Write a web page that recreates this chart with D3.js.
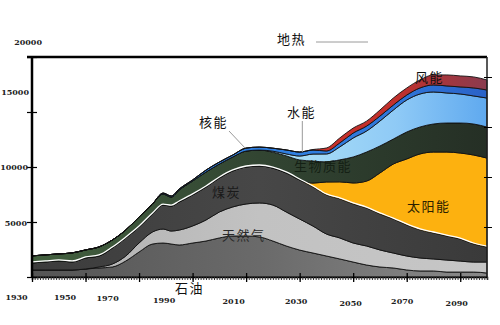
<!DOCTYPE html>
<html>
<head>
<meta charset="utf-8">
<script src="https://cdn.jsdelivr.net/npm/d3@7"></script>
<style>
  body { margin: 0; background: #fff; }
  svg { display: block; }
  .num { font-family: "DejaVu Serif", serif; font-weight: bold; font-size: 8px; fill: #222; }
  .cjk { font-family: "Noto Sans CJK SC", sans-serif; font-size: 13px; letter-spacing: 1.5px; }
</style>
</head>
<body>
<svg id="chart"></svg>
<script>
/* global d3 */

// years
const years = [1930, 1935, 1940, 1945, 1950, 1955, 1960, 1965, 1970, 1975, 1979, 1982, 1985,
  1990, 1995, 2000, 2005, 2010, 2015, 2020, 2025, 2030, 2035, 2040, 2045, 2050, 2055,
  2060, 2065, 2070, 2075, 2080, 2085, 2090, 2095, 2100]

// layer thickness per year (bottom to top)
const oil = [640, 640, 640, 640, 730, 820, 910, 1450, 2270, 3000, 3090, 3000, 2910,
  3090, 3270, 3550, 3730, 3730, 3640, 3270, 2820, 2450, 2180, 1910, 1640, 1360, 1090,
  910, 820, 640, 550, 550, 450, 450, 450, 360]
const gas = [0, 0, 0, 0, 0, 90, 270, 450, 820, 1090, 1270, 1180, 1360,
  1550, 1910, 2360, 2640, 2910, 3090, 3270, 3090, 2820, 2450, 2000, 1910, 1730, 1730,
  1550, 1360, 1270, 1180, 1090, 1090, 1000, 910, 1000]
const coal = [640, 730, 820, 730, 1000, 1000, 1450, 1640, 1450, 1640, 2180, 2270, 2550,
  2820, 3000, 3090, 3270, 3360, 3360, 3360, 3550, 3550, 3550, 3550, 3550, 3550, 3450,
  3270, 3090, 2820, 2550, 2360, 2180, 2000, 1640, 1360]
const solar = [0, 0, 0, 0, 0, 0, 0, 0, 0, 0, 0, 0, 0,
  0, 0, 0, 0, 0, 0, 0, 0, 0, 360, 1180, 1550, 1910, 2450,
  3730, 5000, 6000, 6910, 7360, 7640, 7820, 8090, 8090]
const biomass = [640, 640, 640, 820, 730, 820, 730, 730, 910, 910, 1000, 820, 1090,
  1270, 1360, 1270, 1270, 1450, 1450, 1450, 1550, 1820, 2000, 1820, 2000, 2360, 2640,
  2450, 2270, 2450, 2450, 2550, 2640, 2730, 2820, 2820]
const hydro = [0, 0, 0, 0, 0, 0, 0, 0, 0, 0, 0, 0, 0,
  0, 0, 0, 0, 0, 0, 90, 180, 360, 640, 730, 1180, 1730, 1910,
  2270, 2640, 2910, 3000, 2910, 2730, 2640, 2550, 2640]
const nuclear = [0, 0, 0, 0, 0, 0, 0, 0, 0, 0, 90, 90, 90,
  90, 180, 180, 180, 270, 270, 270, 360, 360, 360, 270, 360, 450, 450,
  450, 450, 450, 550, 640, 640, 640, 730, 730]
const wind = [0, 0, 0, 0, 0, 0, 0, 0, 0, 0, 0, 0, 0,
  0, 0, 0, 0, 0, 0, 0, 0, 0, 50, 270, 450, 450, 450,
  550, 640, 640, 730, 910, 1000, 1000, 1000, 910]

const keys = ['石油', '天然气', '煤炭', '太阳能', '生物质能', '水能', '核能', '风能']
const yTickValues = [0, 5000, 10000, 15000, 20000]
const yearLabels = [1930, 1950, 1970, 1990, 2010, 2030, 2050, 2070, 2090]

document.addEventListener('DOMContentLoaded', function () {
  const width = 500
  const height = 325

  const svg = d3.select('#chart')
    .attr('width', width)
    .attr('height', height)

  const x = d3.scaleLinear().domain([1930, 2100]).range([32, 487])
  const y = d3.scaleLinear().domain([0, 20000]).range([277, 57])
  const yRight = d3.scaleLinear().domain([0, 20000]).range([277, 77])

  const columns = [oil, gas, coal, solar, biomass, hydro, nuclear, wind]
  const rows = years.map((yr, i) => {
    const r = { year: yr }
    keys.forEach((k, j) => { r[k] = columns[j][i] })
    return r
  })
  const stacked = d3.stack().keys(keys)(rows)

  // gradients, roughly the shading of the scan
  const fills = {
    石油: ['#555555', '#6a6a6a', '#8a8a8a'],
    天然气: ['#b0b0b0', '#c2c2c2', '#c6c6c6'],
    煤炭: ['#3c3c3c', '#474747', '#3a3a3a'],
    太阳能: ['#fdb10f', '#fdb10f', '#fdb10f'],
    生物质能: ['#43603f', '#324532', '#252f25'],
    水能: ['#a6dcf6', '#8fcaf6', '#5fa9ef'],
    核能: ['#2f7fe0', '#2f76da', '#2a62c8'],
    风能: ['#c8302a', '#c2302c', '#8a3b4e']
  }
  const defs = svg.append('defs')
  keys.forEach((k, i) => {
    const g = defs.append('linearGradient')
      .attr('id', 'g' + i)
      .attr('gradientUnits', 'userSpaceOnUse')
      .attr('x1', x(1930)).attr('x2', x(2100))
      .attr('y1', 0).attr('y2', 0)
    const offs = k === '风能' || k === '水能' || k === '核能' ? [0.6, 0.8, 1] : [0, 0.5, 1]
    fills[k].forEach((c, j) => g.append('stop').attr('offset', offs[j]).attr('stop-color', c))
  })

  const area = d3.area()
    .x(d => x(d.data.year))
    .y0(d => y(d[0]))
    .y1(d => y(d[1]))
    .curve(d3.curveMonotoneX)

  svg.append('g')
    .selectAll('path')
    .data(stacked)
    .enter()
    .append('path')
    .attr('d', area)
    .style('fill', (d, i) => 'url(#g' + i + ')')
    .style('stroke', '#111')
    .style('stroke-width', 0.9)

  // white rim on top of coal
  const coalTop = d3.line()
    .x(d => x(d.data.year))
    .y(d => y(d[1]) - 1)
    .curve(d3.curveMonotoneX)
  svg.append('path')
    .attr('d', coalTop(stacked[2]))
    .style('fill', 'none')
    .style('stroke', '#fff')
    .style('stroke-width', 1.3)

  // frame
  const frame = svg.append('g').style('stroke', '#000')
  frame.append('line').attr('x1', 27).attr('x2', x(2100)).attr('y1', y(20000)).attr('y2', y(20000)).style('stroke-width', 2.5)
  frame.append('line').attr('x1', x(1930)).attr('x2', x(1930)).attr('y1', y(20000)).attr('y2', y(0)).style('stroke-width', 2.5)
  frame.append('line').attr('x1', x(2100)).attr('x2', x(2100)).attr('y1', y(20000)).attr('y2', y(0)).style('stroke-width', 1.5).style('stroke', '#222')

  // bottom axis: minor ticks every year, major every 20
  svg.append('g')
    .attr('transform', 'translate(0,' + y(0) + ')')
    .call(d3.axisBottom(x).tickValues(d3.range(1930, 2101)).tickSize(3).tickFormat(''))
    .call(g => g.select('.domain').style('stroke-width', 1.5))
    .call(g => g.selectAll('.tick line').attr('y1', -1).style('stroke', '#333'))

  const labelDx = [-16, -21, -32, -29, -13, -4, -3, -5, -4]
  const labelDy = [0, 0, 1, 3, 4, 4, 6, 4, 6]
  svg.append('g')
    .attr('transform', 'translate(0,' + y(0) + ')')
    .call(d3.axisBottom(x).tickValues(yearLabels).tickSize(5).tickSizeOuter(0).tickFormat(d3.format('d')))
    .call(g => g.select('.domain').remove())
    .call(g => g.selectAll('.tick line').attr('y1', -4).style('stroke', '#000').style('stroke-width', 1.3))
    .call(g => g.selectAll('.tick text')
      .attr('class', 'num')
      .attr('dy', null)
      .attr('x', (d, i) => labelDx[i])
      .attr('y', (d, i) => 23 + labelDy[i]))

  // left axis
  const yLabelPos = { 5000: [-5, 3], 10000: [-4, 2], 15000: [-3, -18], 20000: [10, -13] }
  svg.append('g')
    .attr('transform', 'translate(' + x(1930) + ',0)')
    .call(d3.axisLeft(y).tickValues(yTickValues).tickSize(5).tickSizeOuter(0).tickFormat(d => d === 0 ? '' : d))
    .call(g => g.select('.domain').remove())
    .call(g => g.selectAll('.tick line').attr('x1', 5).style('stroke', '#000').style('stroke-width', 1.2))
    .call(g => g.selectAll('.tick text')
      .attr('class', 'num')
      .attr('dy', null)
      .attr('x', d => d ? yLabelPos[d][0] : 0)
      .attr('y', d => d ? yLabelPos[d][1] : 0))

  // right axis ticks
  svg.append('g')
    .attr('transform', 'translate(' + x(2100) + ',0)')
    .call(d3.axisRight(yRight).tickValues([5000, 10000, 15000, 20000]).tickSize(5).tickFormat(''))
    .call(g => g.select('.domain').remove())
    .call(g => g.selectAll('.tick line').attr('x1', -3).style('stroke', '#000'))

  // labels and pointers
  const topAt = yr => y(stacked[keys.length - 1][years.indexOf(yr)][1])
  const pointers = [
    [229, 131, x(2010) - 1, topAt(2010)],
    [x(2031), 121, x(2031), topAt(2030)],
    [316, 42, 368, 42]
  ]
  svg.append('g')
    .selectAll('line')
    .data(pointers)
    .enter()
    .append('line')
    .attr('x1', d => d[0]).attr('y1', d => d[1])
    .attr('x2', d => d[2]).attr('y2', d => d[3])
    .style('stroke', '#9a9a9a')
    .style('stroke-width', 1)

  const notes = [
    ['石油', 175, 293, '#111'],
    ['天然气', 222, 240, '#2a2a2a'],
    ['煤炭', 212, 197, '#1a1a1a'],
    ['太阳能', 407, 211, '#2a2000'],
    ['生物质能', 294, 171, '#142014'],
    ['风能', 415, 82, '#111'],
    ['水能', 287, 117, '#111'],
    ['核能', 199, 127, '#111'],
    ['地热', 277, 44, '#111']
  ]
  svg.append('g')
    .selectAll('text')
    .data(notes)
    .enter()
    .append('text')
    .attr('class', 'cjk')
    .attr('x', d => d[1])
    .attr('y', d => d[2])
    .style('fill', d => d[3])
    .text(d => d[0])
}, false)
</script>
</body>
</html>
